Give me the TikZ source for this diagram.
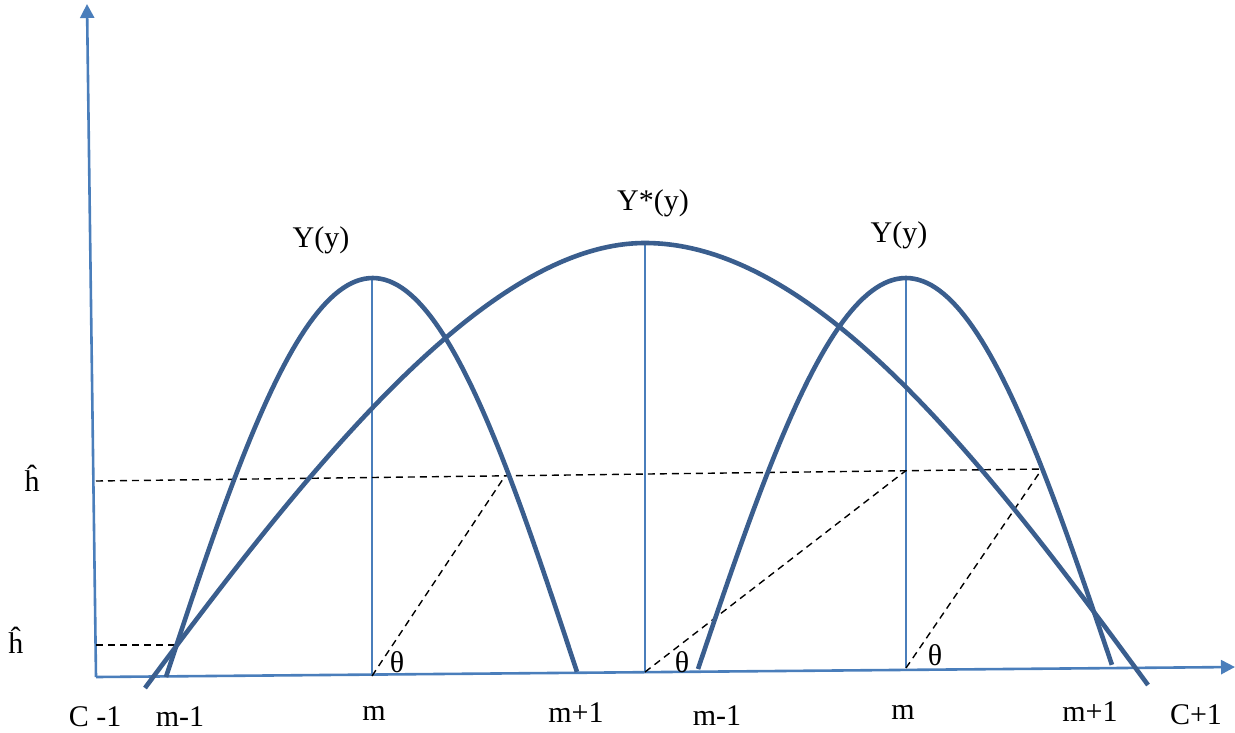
\documentclass[tikz,border=0pt]{standalone}
\usepackage{fontspec}
\setmainfont{Liberation Serif}
\usetikzlibrary{arrows.meta}
\definecolor{curvecol}{HTML}{3A5E8E}
\definecolor{axiscol}{HTML}{4A7EBB}
\tikzset{
  axisline/.style={draw=axiscol, line width=2.6pt, -{Triangle[width=14pt,length=14pt]}},
  thinline/.style={draw=axiscol, line width=1.4pt},
  curveline/.style={draw=curvecol, line width=4.6pt, line cap=butt, line join=round},
  dashline/.style={draw=black, line width=1.4pt, dash pattern=on 7pt off 5pt},
  lbl/.style={font=\fontsize{30}{36}\selectfont, inner sep=0pt, text=black}
}
\begin{document}
\begin{tikzpicture}[x=1pt,y=-1pt]
\useasboundingbox (0,0) rectangle (1235,732);
% key points
\coordinate (O) at (96,677);
\coordinate (ytop) at (87,4);
\coordinate (xend) at (1235,667);
\coordinate (mA) at (372,676);
\coordinate (pA) at (372,278);
\coordinate (mC) at (645,672);
\coordinate (pC) at (645,243);
\coordinate (mB) at (906,668);
\coordinate (pB) at (906,278);
\coordinate (hL) at (96,481);
\coordinate (hR) at (1042,469);
\coordinate (hA) at (505,476);
\coordinate (hB) at (906,470.5);
\coordinate (lL) at (96,645);
\coordinate (lR) at (176,645);
\coordinate (sL) at (145,688);
\coordinate (sR) at (1148,685);

% axes
\draw[axisline] (O) -- (ytop);
\draw[axisline] (O) -- (xend);

% thin verticals
\draw[thinline] (pA) -- (mA);
\draw[thinline] (pC) -- (mC);
\draw[thinline] (pB) -- (mB);

% dashed lines
\draw[dashline] (hL) -- (hR);
\draw[dashline] (lL) -- (lR);
\draw[dashline] (mA) -- (hA);
\draw[dashline] (mC) -- (hB);
\draw[dashline] (mB) -- (hR);

% small curves Y(y)
\draw[curveline]
  plot[domain=1:0,samples=50,variable=\t] ({372.7-206.7*\t},{278+399*(1-cos(90*\t))})
  -- plot[domain=0:1,samples=50,variable=\t] ({372.7+204.3*\t},{278+394*(1-cos(90*\t))});
\draw[curveline]
  plot[domain=1:0,samples=50,variable=\t] ({906-208*\t},{278+391*(1-cos(90*\t))})
  -- plot[domain=0:1,samples=50,variable=\t] ({906+206*\t},{278+387*(1-cos(90*\t))});
% large curve Y*(y)
\draw[curveline] (sL) .. controls (314,460) and (489,243) .. (pC)
  .. controls (816,243) and (986,464) .. (sR);

% labels
\node[lbl] (tYL) at (321,240) {Y(y)};
\node[lbl] (tYS) at (653,203) {Y*(y)};
\node[lbl] (tYR) at (899,235) {Y(y)};
\node[lbl] (h1) at (32,478) {ĥ};
\node[lbl] (h2) at (16,640) {ĥ};
\node[lbl] (th1) at (397,662) {θ};
\node[lbl] (th2) at (682,662) {θ};
\node[lbl] (th3) at (935,655) {θ};
\node[lbl] (b1) at (95,717) {C -1};
\node[lbl] (b2) at (180,717) {m-1};
\node[lbl] (b3) at (374,713) {m};
\node[lbl] (b4) at (576,713) {m+1};
\node[lbl] (b5) at (717,716) {m-1};
\node[lbl] (b6) at (903,712) {m};
\node[lbl] (b7) at (1090,712) {m+1};
\node[lbl] (b8) at (1196,715) {C+1};
\end{tikzpicture}
\end{document}
